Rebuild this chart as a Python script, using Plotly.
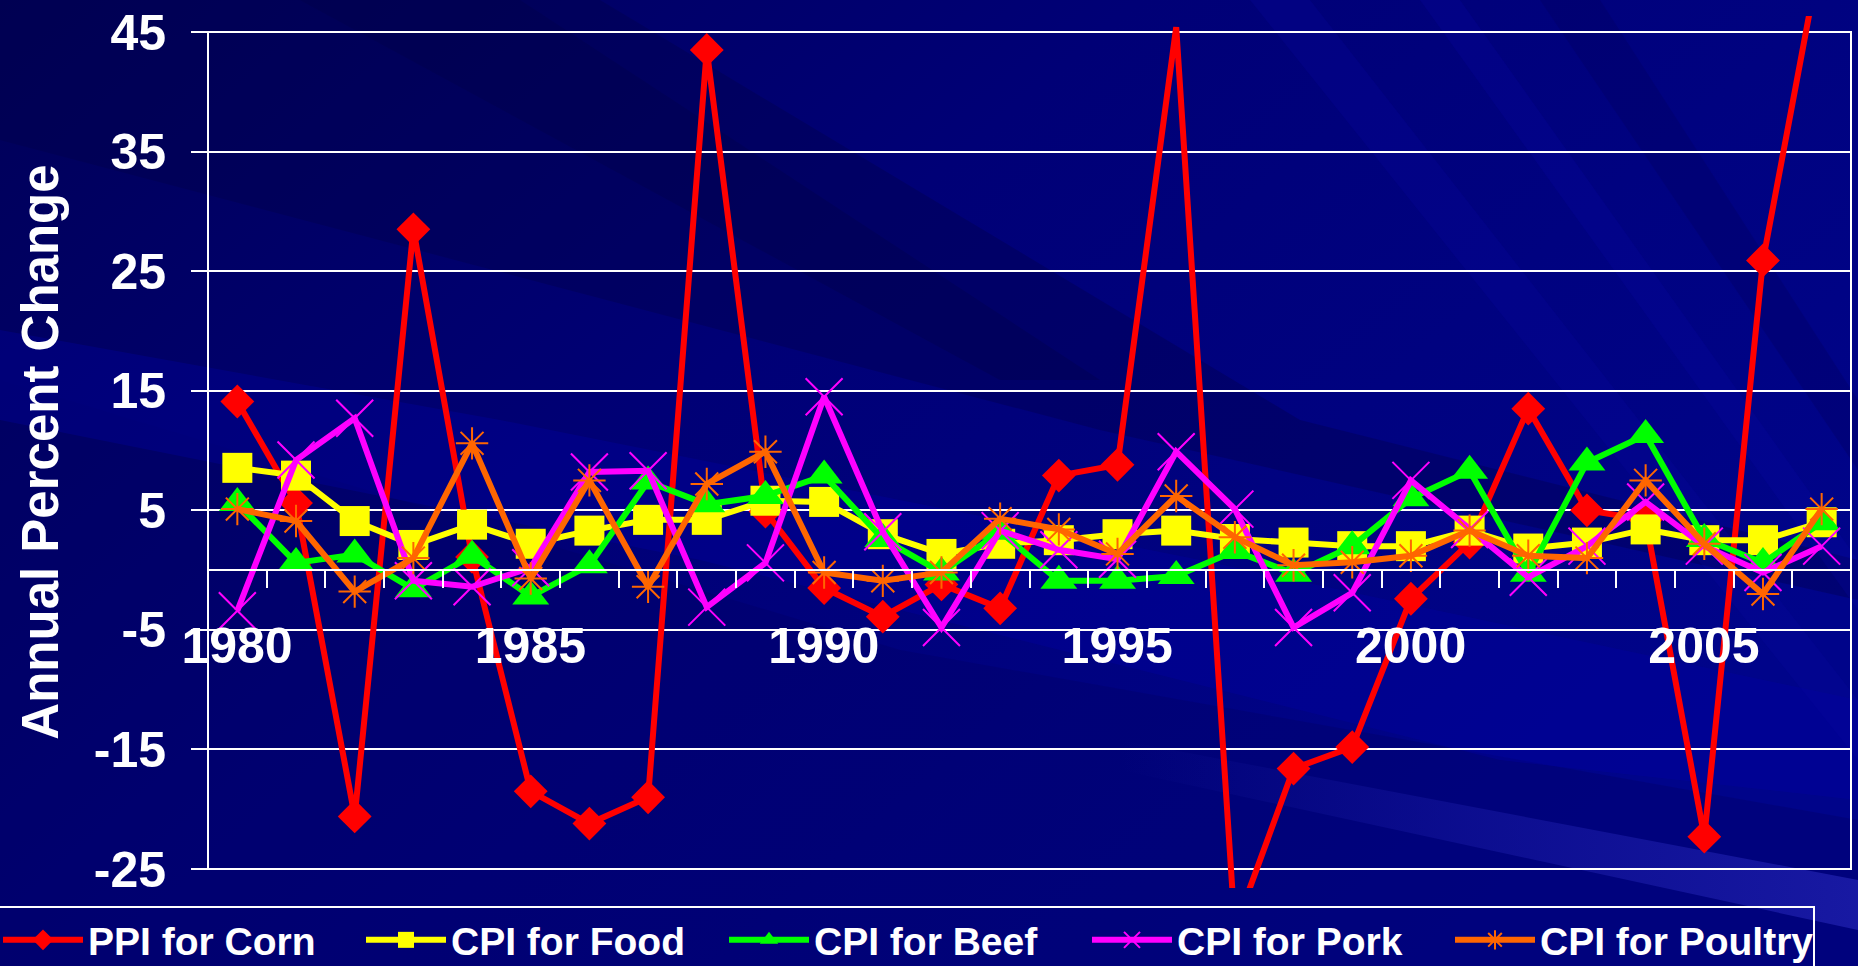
import base64
import plotly.graph_objects as go

# ---------------- data ----------------
years = list(range(1980, 2008))
ppi_corn = [14.1, 5.6, -20.6, 28.5, 1.1, -18.5, -21.2, -19.0, 43.5, 4.9,
            -1.5, -3.9, -1.2, -3.2, 7.9, 8.8, 45.4, -30.0, -16.6, -14.8,
            -2.4, 2.3, 13.5, 5.0, 4.2, -22.3, 25.9, 52.0]
cpi_food = [8.55, 7.9, 4.1, 2.1, 3.8, 2.2, 3.3, 4.2, 4.2, 5.8,
            5.7, 3.0, 1.35, 2.2, 2.5, 3.0, 3.3, 2.6, 2.3, 2.0,
            2.0, 3.3, 1.8, 2.3, 3.4, 2.5, 2.5, 4.0]
cpi_beef = [5.6, 0.6, 1.3, -1.6, 1.2, -2.2, 0.4, 7.4, 5.5, 6.2,
            7.9, 2.6, -0.2, 3.2, -0.9, -0.9, -0.5, 1.6, -0.3, 2.0,
            6.0, 8.3, -0.3, 9.0, 11.3, 2.6, 0.6, 4.0]
cpi_pork = [-3.4, 9.2, 12.7, -0.9, -1.4, 0.2, 8.2, 8.3, -3.1, 0.6,
            14.5, 3.2, -4.8, 3.3, 1.7, 0.9, 9.9, 5.1, -4.8, -1.9,
            7.5, 3.4, -0.6, 2.0, 5.7, 2.0, -0.2, 2.0]
cpi_poultry = [5.1, 4.1, -1.8, 1.0, 10.6, -0.7, 7.5, -1.4, 7.2, 9.9,
               -0.2, -0.9, -0.2, 4.3, 3.4, 1.35, 6.2, 2.75, 0.4, 0.65,
               1.2, 3.3, 1.2, 1.0, 7.5, 2.2, -2.0, 5.1]

series_names = ["PPI for Corn", "CPI for Food", "CPI for Beef", "CPI for Pork", "CPI for Poultry"]
series_values = [ppi_corn, cpi_food, cpi_beef, cpi_pork, cpi_poultry]

y_tick_vals = [45, 35, 25, 15, 5, -5, -15, -25]
x_label_years = [1980, 1985, 1990, 1995, 2000, 2005]
y_title = "Annual Percent Change"

# ---------------- styles ----------------
colors = ["#FF0000", "#FFFF00", "#00FF00", "#FF00FF", "#FF6600"]
symbols = ["diamond", "square", "triangle-up", "x-thin", "asterisk"]
msizes = [26, 30, 32, 37, 27]
thin = [False, False, False, True, True]

W, H = 1858, 966
ML, MR, MT, MB = 208, 7, 16, 78
PW, PH = W - ML - MR, H - MT - MB
y_min_axis, y_max_axis = min(y_tick_vals), max(y_tick_vals)
px_per_unit = (PH - 19 - 16) / (y_max_axis - y_min_axis)
y_lo = y_min_axis - 19 / px_per_unit
y_hi = y_max_axis + 16 / px_per_unit
x_axis_pos = (0 - y_lo) / (y_hi - y_lo)

# category boundaries carry the tick marks; year labels are shifted half a category
boundaries = [y - 0.5 for y in years] + [years[-1] + 0.5]
boundary_text = [str(int(b + 0.5)) if int(b + 0.5) in x_label_years else "" for b in boundaries]
half_cat_px = int(round(PW / len(years) / 2))

FONT = "Liberation Sans, Arial, Helvetica, sans-serif"

# ---------------- background (decorative svg) ----------------
svg = f"""<svg xmlns='http://www.w3.org/2000/svg' width='{W}' height='{H}' viewBox='0 0 {W} {H}'>
<defs>
<linearGradient id='g' x1='0' y1='0' x2='1' y2='0.6'>
<stop offset='0' stop-color='#000058'/>
<stop offset='0.45' stop-color='#000076'/>
<stop offset='1' stop-color='#00048a'/>
</linearGradient>
<linearGradient id='lb' x1='0' y1='0' x2='1' y2='0'>
<stop offset='0' stop-color='#2a2ac0' stop-opacity='0'/>
<stop offset='0.5' stop-color='#2a2ac0' stop-opacity='0.3'/>
<stop offset='1' stop-color='#3030c8' stop-opacity='0.5'/>
</linearGradient>
</defs>
<rect width='{W}' height='{H}' fill='url(#g)'/>
<polygon points='0,380 900,650 1858,820 1858,1000 0,1000' fill='#000060' opacity='0.3'/>
<polygon points='0,420 700,560 1500,760 1858,800 1858,700 1200,560 500,420 0,330' fill='#0000a8' opacity='0.3'/>
<polygon points='0,0 600,0 1300,420 1858,560 1858,600 1100,430 0,140' fill='#000048' opacity='0.35'/>
<polygon points='300,0 520,0 1100,380 1000,380' fill='#000045' opacity='0.3'/>
<polygon points='1250,0 1310,0 1858,700 1858,760' fill='#0808a0' opacity='0.25'/>
<polygon points='1420,0 1460,0 1858,560 1858,610' fill='#0808a8' opacity='0.22'/>
<polygon points='1540,0 1600,0 1858,400 1858,470' fill='#000060' opacity='0.35'/>
<polygon points='1120,740 1858,880 1858,930 1120,770' fill='url(#lb)'/>
</svg>"""
bg_uri = "data:image/svg+xml;base64," + base64.b64encode(svg.encode()).decode()

fig = go.Figure()

for name, vals, col, sym, ms, th in zip(series_names, series_values, colors, symbols, msizes, thin):
    # like the original: markers only for points inside the axis range
    sizes = [ms if y_min_axis <= v <= y_max_axis else 0 for v in vals]
    marker = dict(symbol=sym, size=sizes, color=col, opacity=1,
                  line=dict(color=col, width=2 if th else 0))
    fig.add_trace(go.Scatter(
        x=years, y=vals, name=name, mode="lines+markers",
        line=dict(color=col, width=6),
        marker=marker, cliponaxis=True,
    ))

fig.update_layout(
    width=W, height=H,
    margin=dict(l=ML, r=MR, t=MT, b=MB, pad=0, autoexpand=False),
    paper_bgcolor="#000070",
    plot_bgcolor="rgba(0,0,0,0)",
    font=dict(family=FONT, color="white", size=50, weight="bold"),
    showlegend=True,
    legend=dict(
        orientation="h",
        x=(-4 - ML) / PW, xanchor="left",
        y=-(906 - (H - MB)) / PH, yanchor="top",
        bgcolor="rgba(0,0,0,0)", bordercolor="white", borderwidth=2,
        font=dict(family=FONT, size=39, color="white", weight="bold"),
        itemwidth=80,
        entrywidth=268, entrywidthmode="pixels",
        tracegroupgap=0,
    ),
    images=[dict(source=bg_uri, xref="paper", yref="paper",
                 x=-ML / PW, y=1 + MT / PH,
                 sizex=W / PW, sizey=H / PH,
                 xanchor="left", yanchor="top", sizing="stretch", layer="below")],
    xaxis=dict(
        range=[boundaries[0], boundaries[-1]],
        tickmode="array", tickvals=boundaries, ticktext=boundary_text,
        ticks="outside", ticklen=17, tickwidth=2, tickcolor="white",
        ticklabelshift=half_cat_px, ticklabelstandoff=15,
        showgrid=False, zeroline=False,
        showline=True, linecolor="white", linewidth=2,
        anchor="free", position=x_axis_pos,
        tickfont=dict(family=FONT, size=50, color="white", weight="bold"),
        automargin=False, fixedrange=True,
    ),
    yaxis=dict(
        range=[y_lo, y_hi],
        tickmode="array", tickvals=y_tick_vals, ticktext=[str(v) for v in y_tick_vals],
        ticks="outside", ticklen=16, tickwidth=2, tickcolor="white",
        showgrid=True, gridcolor="white", gridwidth=2,
        zeroline=False, showline=False,
        tickfont=dict(family=FONT, size=50, color="white", weight="bold"),
        ticklabelstandoff=15,
        title=dict(text=y_title, standoff=18,
                   font=dict(family=FONT, size=51, color="white", weight="bold")),
        automargin=False, fixedrange=True,
    ),
    shapes=[dict(type="rect", xref="paper", yref="y", x0=0, x1=1,
                 y0=y_min_axis, y1=y_max_axis,
                 line=dict(color="white", width=2), fillcolor="rgba(0,0,0,0)",
                 layer="below")],
)

fig.write_html(
    "out.html",
    config={"displayModeBar": False},
    post_script="document.body.style.margin='0';document.body.style.overflow='hidden';",
)
